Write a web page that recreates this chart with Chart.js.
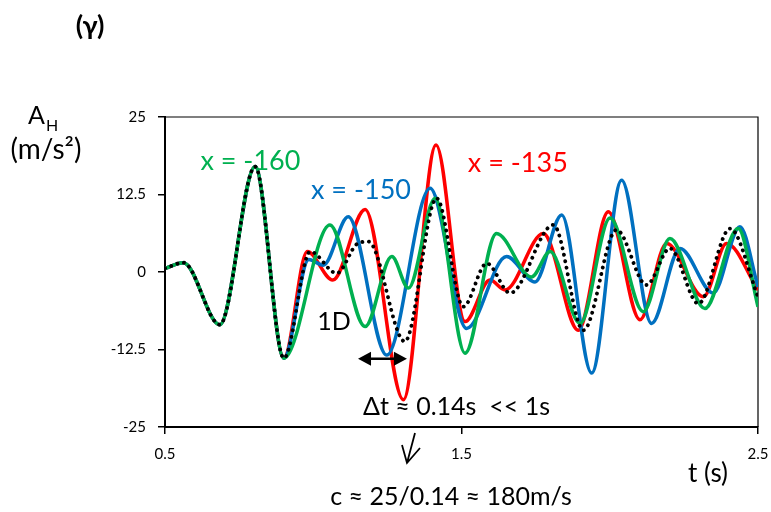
<!DOCTYPE html>
<html>
<head>
<meta charset="utf-8">
<script src="https://cdn.jsdelivr.net/npm/chart.js@4.4.1/dist/chart.umd.min.js"></script>
<style>
  html, body { margin: 0; padding: 0; background: #fff; }
  #wrap { width: 771px; height: 512px; position: relative; }
</style>
</head>
<body>
<div id="wrap"><canvas id="chart" width="771" height="512"></canvas></div>
<script>
// shared start of all four records (identical up to t ~ 0.9 s)
const commonT = [0.5, 0.562, 0.685, 0.804, 0.901];
const commonA = [0.6, 1.5, -8.5, 17.0, -13.9];

// x = -135 (red)
const redT = [0.98, 1.066, 1.175, 1.304, 1.414, 1.512, 1.596, 1.647, 1.776, 1.894, 1.995, 2.102, 2.192, 2.316, 2.394, 2.5];
const redA = [3.3, -1.3, 10.1, -20.6, 20.5, -8.0, -1.3, -2.9, 6.2, -9.4, 9.7, -7.7, 4.6, -4.0, 4.6, -2.9];

// x = -150 (blue)
const blueT = [0.985, 1.034, 1.118, 1.248, 1.394, 1.517, 1.652, 1.748, 1.838, 1.939, 2.04, 2.141, 2.237, 2.349, 2.439, 2.5];
const blueA = [2.0, 1.1, 8.9, -13.4, 13.5, -9.1, 2.5, -1.6, 9.2, -16.3, 14.8, -8.3, 3.8, -3.4, 7.3, -2.4];

// x = -160 (green)
const greenT = [1.056, 1.175, 1.265, 1.321, 1.411, 1.512, 1.618, 1.736, 1.799, 1.9, 2.001, 2.113, 2.203, 2.321, 2.433, 2.5];
const greenA = [7.6, -8.8, 2.5, -2.6, 11.9, -13.1, 6.2, -0.8, 3.3, -8.3, 8.7, -6.4, 5.4, -5.9, 7.0, -5.6];

// 1D (dotted black)
const oneDT = [0.99, 1.079, 1.15, 1.186, 1.309, 1.416, 1.506, 1.585, 1.664, 1.81, 1.911, 2.023, 2.124, 2.203, 2.299, 2.406, 2.5];
const oneDA = [3.3, -0.2, 4.6, 4.9, -11.2, 11.9, -5.6, 1.4, -3.4, 7.6, -9.4, 6.8, -2.1, 3.8, -5.1, 7.0, -4.0];

const xTicks = [0.5, 1.5, 2.5];
const yTicks = [25, 12.5, 0, -12.5, -25];

function pts(t, a) {
  const all = commonT.concat(t);
  const vals = commonA.concat(a);
  return all.map((v, i) => ({ x: v, y: vals[i] }));
}

const FONT = 'Lato, "Open Sans", sans-serif';

// frame, labels and arrows
const annot = {
  id: 'annot',
  beforeDatasetsDraw(chart) {
    const { ctx, chartArea: a } = chart;
    ctx.save();
    ctx.strokeStyle = '#000';
    ctx.lineWidth = 1.2;
    ctx.beginPath();
    ctx.moveTo(a.left, a.top);
    ctx.lineTo(a.right, a.top);
    ctx.lineTo(a.right, a.bottom);
    ctx.stroke();
    ctx.restore();
  },
  afterDraw(chart) {
    const { ctx } = chart;
    const xs = chart.scales.x, ys = chart.scales.y;
    ctx.save();
    ctx.textBaseline = 'middle';
    ctx.textAlign = 'center';

    // title
    ctx.fillStyle = '#000';
    ctx.font = 'bold 27px ' + FONT;
    ctx.fillText('(γ)', 90, 26);

    // axis title A_H (m/s²)
    ctx.font = '25px ' + FONT;
    ctx.textAlign = 'left';
    ctx.fillText('A', 28, 116);
    ctx.font = '16px ' + FONT;
    ctx.fillText('H', 46, 126);
    ctx.font = '28px ' + FONT;
    ctx.textAlign = 'center';
    ctx.fillText('(m/s²)', 46, 150);

    // x title
    ctx.font = '26px ' + FONT;
    ctx.fillText('t (s)', 708, 474);

    // series labels
    ctx.font = '27px ' + FONT;
    ctx.fillStyle = '#00B050';
    ctx.fillText('x = -160', xs.getPixelForValue(0.788), ys.getPixelForValue(17.9));
    ctx.fillStyle = '#0070C0';
    ctx.fillText('x = -150', xs.getPixelForValue(1.161), ys.getPixelForValue(13.1));
    ctx.fillStyle = '#FF0000';
    ctx.fillText('x = -135', xs.getPixelForValue(1.69), ys.getPixelForValue(17.6));

    // 1D and Δt
    ctx.fillStyle = '#000';
    ctx.font = '25px ' + FONT;
    ctx.fillText('1D', xs.getPixelForValue(1.07), ys.getPixelForValue(-8.1));
    ctx.textAlign = 'left';
    ctx.fillText('Δt ≈ 0.14s  << 1s', 363, 407);
    ctx.textAlign = 'center';
    ctx.fillText('c ≈ 25/0.14 ≈ 180m/s', 451, 497);

    // double arrow
    const ay = ys.getPixelForValue(-14.0);
    const x1 = xs.getPixelForValue(1.151), x2 = xs.getPixelForValue(1.316);
    ctx.strokeStyle = '#000';
    ctx.lineWidth = 2.5;
    ctx.beginPath();
    ctx.moveTo(x1 + 8, ay);
    ctx.lineTo(x2 - 8, ay);
    ctx.stroke();
    ctx.beginPath();
    ctx.moveTo(x1, ay); ctx.lineTo(x1 + 13, ay - 7); ctx.lineTo(x1 + 13, ay + 7); ctx.closePath();
    ctx.moveTo(x2, ay); ctx.lineTo(x2 - 13, ay - 7); ctx.lineTo(x2 - 13, ay + 7); ctx.closePath();
    ctx.fill();

    // down arrow
    ctx.lineWidth = 1.8;
    ctx.beginPath();
    ctx.moveTo(415, 433);
    ctx.lineTo(407, 463);
    ctx.moveTo(402, 445);
    ctx.lineTo(407, 463);
    ctx.lineTo(420, 448);
    ctx.stroke();
    ctx.restore();
  }
};

const line = (label, data, color, extra) => Object.assign({
  label, data,
  borderColor: color,
  borderWidth: 3.5,
  pointRadius: 0,
  cubicInterpolationMode: 'monotone',
  fill: false
}, extra || {});

new Chart(document.getElementById('chart'), {
  type: 'line',
  data: {
    datasets: [
      line('1D', pts(oneDT, oneDA), '#000', { borderDash: [0.1, 6.5], borderCapStyle: 'round', borderWidth: 3.8 }),
      line('x = -160', pts(greenT, greenA), '#00B050'),
      line('x = -150', pts(blueT, blueA), '#0070C0'),
      line('x = -135', pts(redT, redA), '#FF0000')
    ]
  },
  options: {
    responsive: false,
    animation: false,
    layout: { padding: { left: 0, top: 117, right: 13, bottom: 0 } },
    plugins: { legend: { display: false }, tooltip: { enabled: false } },
    scales: {
      x: {
        type: 'linear',
        min: 0.5, max: 2.5,
        afterBuildTicks: s => { s.ticks = xTicks.map(v => ({ value: v })); },
        afterFit: s => { s.height = 85; s.paddingLeft = 0; s.paddingRight = 0; },
        grid: { drawOnChartArea: false, tickLength: 7, color: '#000', lineWidth: 1.5 },
        border: { color: '#000', width: 2 },
        ticks: { color: '#000', padding: 11, maxRotation: 0, font: { family: FONT, size: 15 }, callback: v => String(v) }
      },
      y: {
        min: -25, max: 25,
        afterBuildTicks: s => { s.ticks = yTicks.map(v => ({ value: v })); },
        afterFit: s => { s.width = 165; s.paddingTop = 0; s.paddingBottom = 0; },
        grid: { drawOnChartArea: false, tickLength: 7, color: '#000', lineWidth: 1.5 },
        border: { color: '#000', width: 2 },
        ticks: { color: '#000', padding: 12, font: { family: FONT, size: 15 }, callback: v => String(v) }
      }
    }
  },
  plugins: [annot]
});
</script>
</body>
</html>
